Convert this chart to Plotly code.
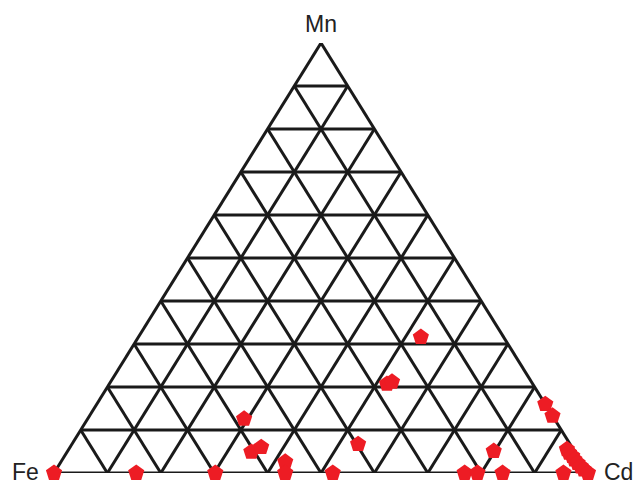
import plotly.graph_objects as go
import numpy as np

# Ternary compositions (fractions)
fe = [1.00, 0.846, 0.698, 0.581, 0.606, 0.582, 0.554, 0.567, 0.397, 0.478,
      0.155, 0.273, 0.261, 0.151, 0.231, 0.207, 0.160, 0.046, 0.0, 0.0,
      0.012, 0.012, 0.010, 0.010, 0.008, 0.006, 0.004, 0.0]
mn = [0.0, 0.0, 0.0, 0.126, 0.049, 0.060, 0.026, 0.0, 0.067, 0.0,
      0.316, 0.207, 0.212, 0.051, 0.0, 0.0, 0.0, 0.0, 0.160, 0.133,
      0.055, 0.047, 0.039, 0.031, 0.023, 0.015, 0.008, 0.0]
cd = [1 - a - b for a, b in zip(fe, mn)]

grid_steps = [i / 10 for i in range(11)]
corner_labels = ["Fe", "Mn", "Cd"]


def to_xy(cd_v, mn_v):
    cd_v = np.asarray(cd_v, dtype=float)
    mn_v = np.asarray(mn_v, dtype=float)
    return cd_v + mn_v / 2, mn_v


fig = go.Figure()

# grid lines: constant Mn, constant Cd, constant Fe
gx, gy = [], []
for t in grid_steps:
    x, y = to_xy([0, 1 - t], [t, t])
    gx += list(x) + [None]; gy += list(y) + [None]
    x, y = to_xy([t, t], [0, 1 - t])
    gx += list(x) + [None]; gy += list(y) + [None]
    x, y = to_xy([1 - t, 0], [0, 1 - t])
    gx += list(x) + [None]; gy += list(y) + [None]

fig.add_trace(go.Scatter(x=gx, y=gy, mode="lines",
                         line=dict(color="#1a1a1a", width=3),
                         hoverinfo="skip", showlegend=False, cliponaxis=False))

px_, py_ = to_xy(cd, mn)
fig.add_trace(go.Scatter(x=px_, y=py_, mode="markers",
                         marker=dict(symbol="pentagon", size=17, color="#ED1C24",
                                     line=dict(width=0)),
                         showlegend=False, cliponaxis=False))

font = dict(family="Liberation Sans, Arial, sans-serif", size=23, color="#222222")
fig.add_annotation(x=0, y=0, text=corner_labels[0], showarrow=False,
                   xanchor="right", yanchor="middle", xshift=-13, yshift=1, font=font)
fig.add_annotation(x=0.5, y=1, text=corner_labels[1], showarrow=False,
                   xanchor="center", yanchor="bottom", yshift=4, font=font)
fig.add_annotation(x=1, y=0, text=corner_labels[2], showarrow=False,
                   xanchor="left", yanchor="middle", xshift=14, yshift=1, font=font)

fig.update_xaxes(range=[0, 1], visible=False, showgrid=False, zeroline=False)
fig.update_yaxes(range=[0, 1], visible=False, showgrid=False, zeroline=False)
fig.update_layout(width=635, height=484,
                  margin=dict(l=53.5, r=46.5, t=43, b=11, pad=0),
                  plot_bgcolor="white", paper_bgcolor="white")

fig.write_html("out.html", config={"displayModeBar": False},
               post_script="document.body.style.margin='0';document.body.style.overflow='hidden';")
